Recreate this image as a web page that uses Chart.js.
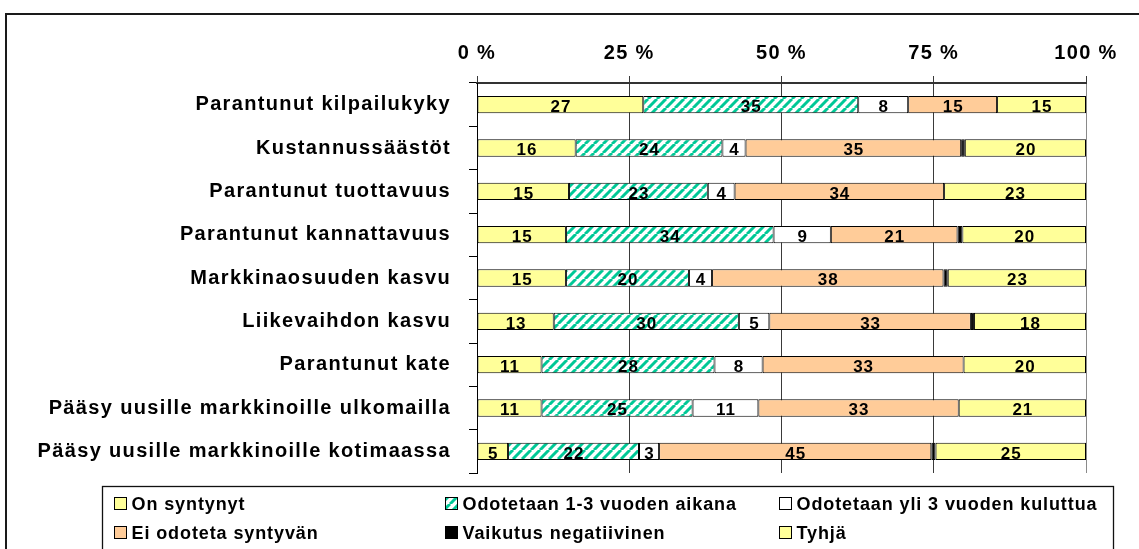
<!DOCTYPE html>
<html>
<head>
<meta charset="utf-8">
<script src="https://cdn.jsdelivr.net/npm/chart.js@4.4.1/dist/chart.umd.min.js"></script>
<style>
  html, body { margin: 0; padding: 0; background: #ffffff; }
  canvas { display: block; }
</style>
</head>
<body>
<canvas id="c" width="1139" height="549"></canvas>
<script>
// ---- Data (percent shares) ----
const categories = [
  'Parantunut kilpailukyky',
  'Kustannussäästöt',
  'Parantunut tuottavuus',
  'Parantunut kannattavuus',
  'Markkinaosuuden kasvu',
  'Liikevaihdon kasvu',
  'Parantunut kate',
  'Pääsy uusille markkinoille ulkomailla',
  'Pääsy uusille markkinoille kotimaassa'
];
const seriesNames = [
  'On syntynyt',
  'Odotetaan 1-3 vuoden aikana',
  'Odotetaan yli 3 vuoden kuluttua',
  'Ei odoteta syntyvän',
  'Vaikutus negatiivinen',
  'Tyhjä'
];
const onSyntynyt      = [27.3, 16.2, 15.1, 14.6, 14.6, 12.6, 10.6, 10.6, 5.1];
const odotetaan13     = [35.3, 24.1, 22.8, 34.1, 20.2, 30.4, 28.4, 24.8, 21.5];
const odotetaanYli3   = [8.2, 3.8, 4.4, 9.4, 3.8, 5.0, 7.9, 10.8, 3.3];
const eiOdoteta       = [14.6, 35.4, 34.4, 20.8, 38.0, 33.1, 33.0, 32.9, 44.7];
const negatiivinen    = [null, 0.6, null, 0.8, 0.7, 0.5, null, null, 0.7];
const tyhja           = [14.6, 19.9, 23.3, 20.3, 22.7, 18.4, 20.1, 20.9, 24.7];
const xTicks          = [0, 25, 50, 75, 100];

const FONT = "Arial, 'Liberation Sans', sans-serif";
const canvas = document.getElementById('c');
const ctx = canvas.getContext('2d');

function makeHatch() {
  const s = 9;
  const t = document.createElement('canvas');
  t.width = s; t.height = s;
  const g = t.getContext('2d');
  g.fillStyle = '#ffffff';
  g.fillRect(0, 0, s, s);
  g.strokeStyle = '#00C896';
  g.lineWidth = 3;
  for (const o of [-s, 0, s]) {
    g.beginPath();
    g.moveTo(o, s);
    g.lineTo(o + s, 0);
    g.stroke();
  }
  return ctx.createPattern(t, 'repeat');
}
const hatch = makeHatch();

const colors = ['#FFFF99', hatch, '#FFFFFF', '#FFCC99', '#000000', '#FFFF99'];
const seriesData = [onSyntynyt, odotetaan13, odotetaanYli3, eiOdoteta, negatiivinen, tyhja];

const datasets = seriesNames.map((name, i) => ({
  label: name,
  data: seriesData[i],
  backgroundColor: colors[i],
  borderColor: '#000000',
  borderWidth: 1,
  borderSkipped: false,
  barPercentage: 0.4,
  categoryPercentage: 1.0,
  showValue: name !== 'Vaikutus negatiivinen'
}));

const spacingPlugin = {
  id: 'spacing',
  beforeDraw(chart) {
    chart.ctx.letterSpacing = '1.35px';
  }
};

const valueLabels = {
  id: 'valueLabels',
  afterDatasetsDraw(chart) {
    const c = chart.ctx;
    c.save();
    c.letterSpacing = '1px';
    c.font = 'bold 17px ' + FONT;
    c.fillStyle = '#000';
    c.textAlign = 'center';
    c.textBaseline = 'alphabetic';
    chart.data.datasets.forEach((ds, di) => {
      if (!ds.showValue) return;
      const meta = chart.getDatasetMeta(di);
      meta.data.forEach((el, i) => {
        const v = ds.data[i];
        if (v === null || v === undefined) return;
        const cx = (el.x + el.base) / 2;
        c.fillText(String(Math.round(v)), cx + 0.5, el.y + 7.3);
      });
    });
    c.restore();
  }
};

const frameAndLegend = {
  id: 'frameAndLegend',
  afterDraw(chart) {
    const c = chart.ctx;
    c.save();
    // outer frame (top and left edges visible)
    c.strokeStyle = '#1a1a1a';
    c.lineWidth = 2;
    c.beginPath();
    c.moveTo(6, 560);
    c.lineTo(6, 14);
    c.lineTo(1145, 14);
    c.stroke();
    // legend box
    c.lineWidth = 1.3;
    c.strokeStyle = '#111';
    c.strokeRect(102.5, 486.5, 1011, 100);
    // legend items
    const colX = [114.5, 445.5, 779.5];
    const rowY = [503.5, 532.5];
    c.letterSpacing = '0.9px';
    c.font = 'bold 18px ' + FONT;
    c.textAlign = 'left';
    c.textBaseline = 'alphabetic';
    chart.data.datasets.forEach((ds, i) => {
      const x = colX[i % 3];
      const y = rowY[Math.floor(i / 3)];
      c.fillStyle = ds.backgroundColor;
      c.fillRect(x, y - 6, 12, 12);
      c.lineWidth = 1;
      c.strokeStyle = '#000';
      c.strokeRect(x, y - 6, 12, 12);
      c.fillStyle = '#000';
      c.fillText(ds.label, x + 17, y + 6.8);
    });
    c.restore();
  }
};

new Chart(canvas, {
  type: 'bar',
  data: { labels: categories, datasets: datasets },
  options: {
    indexAxis: 'y',
    responsive: false,
    animation: false,
    layout: { padding: { left: 0, right: 53, top: 0, bottom: 76 } },
    plugins: { legend: { display: false }, tooltip: { enabled: false } },
    scales: {
      x: {
        position: 'top',
        stacked: true,
        min: 0,
        max: 100,
        afterBuildTicks: (s) => { s.ticks = xTicks.map(v => ({ value: v })); },
        ticks: {
          callback: (v) => v + ' %',
          color: '#000',
          font: { family: FONT, size: 20, weight: 'bold' },
          padding: 11,
          maxRotation: 0
        },
        grid: {
          drawOnChartArea: true,
          color: (c) => (c.tick && c.tick.value === 100) ? '#8a8a8a' : '#3a3a3a',
          tickColor: '#3a3a3a',
          tickLength: 7,
          lineWidth: 1
        },
        border: { display: true, color: '#333', width: 2 },
        afterFit: (s) => { s.height = 83; }
      },
      y: {
        stacked: true,
        ticks: {
          color: '#000',
          font: { family: FONT, size: 20, weight: 'bold' },
          padding: 18,
          autoSkip: false
        },
        grid: {
          offset: true,
          drawOnChartArea: false,
          color: '#000',
          tickLength: 8,
          lineWidth: 1
        },
        border: { display: true, color: '#000', width: 1 },
        afterFit: (s) => { s.width = 477; }
      }
    }
  },
  plugins: [spacingPlugin, valueLabels, frameAndLegend]
});
</script>
</body>
</html>
